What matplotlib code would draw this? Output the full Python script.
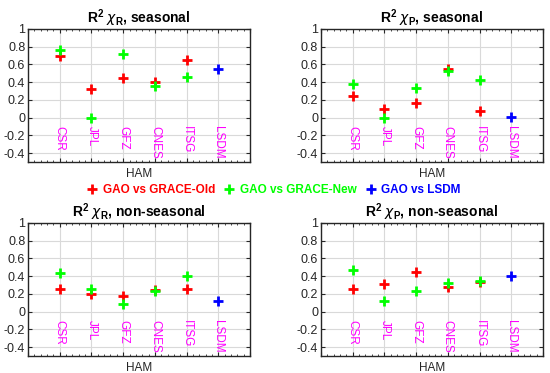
import matplotlib.pyplot as plt
from matplotlib.lines import Line2D
from matplotlib.ticker import MultipleLocator

plt.rcParams['font.family'] = ['Liberation Sans', 'DejaVu Sans']
plt.rcParams['mathtext.fontset'] = 'custom'
plt.rcParams['mathtext.rm'] = 'Liberation Sans'
plt.rcParams['mathtext.bf'] = 'Liberation Sans:bold'

centers = ['CSR', 'JPL', 'GFZ', 'CNES', 'ITSG']
titles = [r'R$^{\mathbf{2}}$ $\chi_{\mathbf{R}}$, seasonal',
          r'R$^{\mathbf{2}}$ $\chi_{\mathbf{P}}$, seasonal',
          r'R$^{\mathbf{2}}$ $\chi_{\mathbf{R}}$, non-seasonal',
          r'R$^{\mathbf{2}}$ $\chi_{\mathbf{P}}$, non-seasonal']

# GAO vs GRACE-Old (red), GAO vs GRACE-New (green), GAO vs LSDM (blue)
old_vals = [
    [0.70, 0.32, 0.45, 0.40, 0.65],
    [0.24, 0.10, 0.16, 0.55, 0.08],
    [0.25, 0.20, 0.18, 0.24, 0.25],
    [0.26, 0.31, 0.45, 0.28, 0.33],
]
new_vals = [
    [0.76, 0.00, 0.72, 0.36, 0.46],
    [0.38, 0.00, 0.34, 0.53, 0.42],
    [0.44, 0.25, 0.09, 0.23, 0.40],
    [0.47, 0.12, 0.23, 0.32, 0.35],
]
lsdm_vals = [0.55, 0.01, 0.12, 0.40]

RED = (1, 0, 0)
GREEN = (0, 1, 0)
BLUE = (0, 0, 1)
MAGENTA = (1, 0, 1)
DARK = (0.15, 0.15, 0.15)

fig = plt.figure(figsize=(5.5, 3.73), dpi=100)
w, h = 0.4036, 0.3566
positions = [(0.051, 0.5657), (0.5836, 0.5657), (0.051, 0.0456), (0.5836, 0.0456)]

labels = centers + ['LSDM']
xs = list(range(1, len(labels) + 1))
mk = dict(linestyle='none', marker='+', markersize=7.5, markeredgewidth=2.0)

for i, (l, b) in enumerate(positions):
    ax = fig.add_axes([l, b, w, h])
    ax.plot(xs[:5], old_vals[i], color=RED, **mk)
    ax.plot(xs[:5], new_vals[i], color=GREEN, **mk)
    ax.plot([xs[5]], [lsdm_vals[i]], color=BLUE, **mk)
    for x, lab in zip(xs, labels):
        ax.text(x, -0.095, lab, rotation=270, ha='center', va='top',
                color=MAGENTA, fontsize=8.5)
    ax.set_xlim(0, 7)
    ax.set_ylim(-0.5, 1)
    ax.set_xticks(range(8))
    ax.set_xticklabels([])
    ax.xaxis.set_minor_locator(MultipleLocator(0.2))
    ax.set_yticks([-0.4, -0.2, 0, 0.2, 0.4, 0.6, 0.8, 1])
    ax.set_yticklabels(['-0.4', '-0.2', '0', '0.2', '0.4', '0.6', '0.8', '1'])
    ax.tick_params(direction='in', length=3, width=0.8, colors=DARK,
                   labelsize=9, top=True, right=True, pad=2)
    ax.tick_params(which='minor', direction='in', length=1.5, width=0.6,
                   colors=DARK, top=True)
    ax.grid(True, color=(0.85, 0.85, 0.85), linewidth=0.8)
    ax.set_axisbelow(True)
    for sp in ax.spines.values():
        sp.set_color(DARK)
        sp.set_linewidth(1.0)
    ax.set_xlabel('HAM', fontsize=8.5, color=DARK, labelpad=1)
    ax.set_title(titles[i], fontsize=10, fontweight='bold', pad=4)

handles = [Line2D([], [], color=c, **mk) for c in (RED, GREEN, BLUE)]
leg = fig.legend(handles, ['GAO vs GRACE-Old', 'GAO vs GRACE-New', 'GAO vs LSDM'],
                 loc='center', bbox_to_anchor=(0.498, 0.4906), ncol=3,
                 frameon=False, handlelength=0.8, handletextpad=0.5,
                 columnspacing=0.8, prop={'weight': 'bold', 'size': 8.5})
for txt, c in zip(leg.get_texts(), (RED, GREEN, BLUE)):
    txt.set_color(c)

fig.savefig('out.png', dpi=100)
